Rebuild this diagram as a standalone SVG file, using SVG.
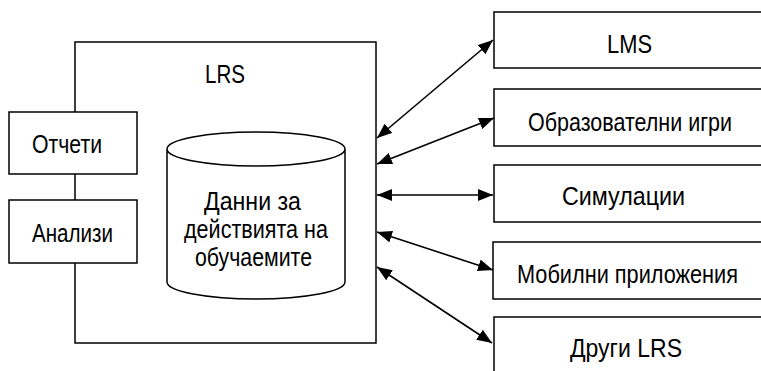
<svg xmlns="http://www.w3.org/2000/svg" width="761" height="371" viewBox="0 0 761 371">
<style>
.box{fill:#fff;stroke:#000;stroke-width:1.5}
.t{font-family:"Liberation Sans",Arial,sans-serif;font-size:25px;fill:#000}
.c{fill:none;stroke:#000;stroke-width:1.6;marker-start:url(#ah);marker-end:url(#ah)}
</style>
<defs>
<marker id="ah" markerUnits="userSpaceOnUse" markerWidth="16" markerHeight="12" refX="15" refY="6" orient="auto-start-reverse" viewBox="0 0 16 12">
<path d="M0,0 L15,6 L0,12 z" fill="#000"/>
</marker>
</defs>
<rect width="761" height="371" fill="#fff"/>
<g id="lrs">
<rect class="box" x="75" y="42" width="301" height="301"/>
<text class="t" x="205" y="83" textLength="40" lengthAdjust="spacingAndGlyphs">LRS</text>
</g>
<g id="otcheti">
<rect class="box" x="9" y="112" width="128" height="62"/>
<text class="t" x="32" y="153" textLength="70" lengthAdjust="spacingAndGlyphs">Отчети</text>
</g>
<g id="analizi">
<rect class="box" x="9" y="200" width="128" height="63"/>
<text class="t" x="32" y="242" textLength="81" lengthAdjust="spacingAndGlyphs">Анализи</text>
</g>
<g id="data">
<path class="box" d="M167,149 L167,282 A89,17 0 0 0 345,282 L345,149 A89,17 0 0 0 167,149 A89,17 0 0 0 345,149"/>
<text class="t" x="204" y="210" textLength="97" lengthAdjust="spacingAndGlyphs">Данни за</text>
<text class="t" x="184" y="238" textLength="144" lengthAdjust="spacingAndGlyphs">действията на</text>
<text class="t" x="195" y="266" textLength="117" lengthAdjust="spacingAndGlyphs">обучаемите</text>
</g>
<g id="lms">
<rect class="box" x="494" y="12" width="280" height="56"/>
<text class="t" x="607" y="53" textLength="45" lengthAdjust="spacingAndGlyphs">LMS</text>
</g>
<g id="games">
<rect class="box" x="494" y="89" width="280" height="57"/>
<text class="t" transform="translate(528,130.5) scale(0.85,1)" x="0" y="0" textLength="240" lengthAdjust="spacingAndGlyphs">Образователни игри</text>
</g>
<g id="sim">
<rect class="box" x="494" y="165" width="280" height="57"/>
<text class="t" x="562" y="205" textLength="123" lengthAdjust="spacingAndGlyphs">Симулации</text>
</g>
<g id="mobile">
<rect class="box" x="493" y="242" width="280" height="57"/>
<text class="t" transform="translate(517,283) scale(0.85,1)" x="0" y="0" textLength="260" lengthAdjust="spacingAndGlyphs">Мобилни приложения</text>
</g>
<g id="other">
<rect class="box" x="494" y="317" width="280" height="60"/>
<text class="t" x="570" y="357" textLength="112" lengthAdjust="spacingAndGlyphs">Други LRS</text>
</g>
<g id="connectors">
<line class="c" x1="377" y1="138" x2="493" y2="40"/>
<line class="c" x1="377" y1="164" x2="494" y2="118"/>
<line class="c" x1="377" y1="195" x2="493" y2="195"/>
<line class="c" x1="377" y1="232" x2="493" y2="270"/>
<line class="c" x1="377" y1="267" x2="492" y2="343"/>
</g>
</svg>
